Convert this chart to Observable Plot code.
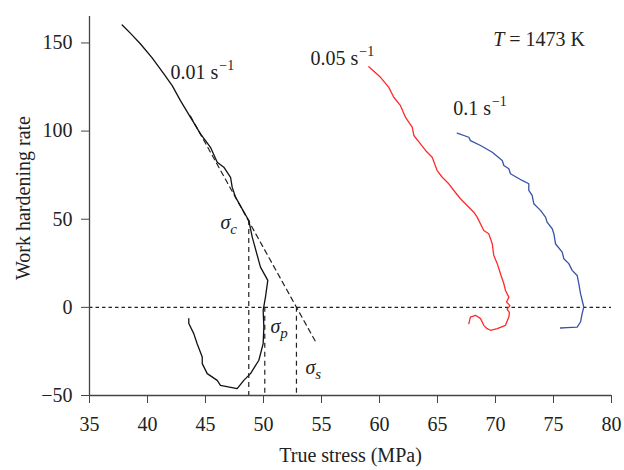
<!DOCTYPE html>
<html>
<head>
<meta charset="utf-8">
<script src="https://cdn.jsdelivr.net/npm/d3@7"></script>
<script src="https://cdn.jsdelivr.net/npm/@observablehq/plot@0.6"></script>
<style>
  html, body { margin: 0; padding: 0; background: #fff; }
  #chart { width: 624px; height: 470px; }
</style>
</head>
<body>
<div id="chart"></div>
<script>
// ---- data ----
const xTicks = [35, 40, 45, 50, 55, 60, 65, 70, 75, 80];
const yTicks = [-50, 0, 50, 100, 150];

// 0.01 s^-1 (black)
const blackX = [37.82, 38.6, 39.40, 40.4, 41.41, 42.13, 42.84, 43.71, 44.57, 45.43, 46.01, 46.58, 47.16, 47.30, 47.59, 48.16, 48.73, 49.03, 49.74, 50.37, 50.17, 49.97, 50.03, 49.97, 49.60, 48.88, 48.30, 47.73, 46.29, 46.01, 45.15, 44.72, 44.72, 44.28, 43.99, 43.56, 43.56];
const blackY = [160.2, 155.0, 149.4, 141.5, 132.4, 125.8, 117.3, 107.8, 98.4, 90.8, 82.3, 79.5, 73.8, 68.2, 62.5, 55.9, 49.3, 39.8, 22.8, 15.3, 5.8, -1.7, -11.2, -20.6, -30.0, -37.6, -41.4, -46.1, -44.2, -41.4, -37.6, -31.9, -28.2, -20.6, -14.9, -9.2, -6.4];

// 0.05 s^-1 (red)
const redX = [59.08, 60.09, 60.80, 61.23, 61.81, 62.24, 62.82, 62.96, 63.53, 63.97, 64.54, 64.97, 65.41, 65.97, 66.41, 66.98, 68.13, 68.42, 68.99, 69.42, 69.72, 69.85, 70.15, 70.43, 70.72, 70.86, 71.15, 70.95, 71.25, 71.00, 71.20, 71.15, 70.86, 70.15, 69.57, 69.28, 68.99, 68.71, 68.28, 67.84, 67.70];
const redY = [136.5, 130.5, 124.8, 119.2, 114.4, 107.8, 102.2, 97.5, 92.7, 89.0, 85.2, 77.6, 73.8, 70.1, 66.3, 61.6, 54.0, 51.2, 43.6, 41.8, 36.1, 29.5, 24.8, 19.1, 13.4, 9.6, 5.8, 3.0, 1.0, -1.0, -3.0, -5.5, -10.2, -12.1, -13.0, -12.1, -10.2, -6.4, -4.5, -5.5, -9.2];

// 0.1 s^-1 (blue)
const blueX = [66.70, 67.70, 67.84, 68.71, 69.72, 70.58, 70.72, 71.15, 71.29, 72.30, 72.87, 72.87, 73.16, 73.30, 73.88, 74.31, 74.45, 74.89, 75.03, 75.17, 75.75, 75.89, 76.32, 76.61, 77.04, 77.18, 77.33, 77.61, 77.47, 77.33, 77.04, 76.18, 75.60];
const blueY = [98.8, 96.5, 94.6, 91.8, 88.0, 83.3, 80.5, 78.6, 75.8, 72.0, 70.1, 66.3, 63.5, 58.8, 55.0, 51.2, 48.3, 44.6, 41.8, 36.1, 31.3, 27.6, 24.8, 21.0, 18.1, 13.4, 7.8, 0.2, -3.6, -8.3, -11.2, -11.5, -11.7];

// tangent line and critical stresses
const tangentX = [43.7, 54.45];
const tangentY = [108.5, -19.0];
const sigmaX = [48.73, 50.11, 52.84];
const sigmaTop = [49.3, 0, 0];

// annotations
const annoText = ["0.01 s^\u22121", "0.05 s^\u22121", "0.1 s^\u22121", "T = 1473 K", "\u03c3_c", "\u03c3_p", "\u03c3_s"];
const annoX = [41.98, 54.05, 66.35, 69.8, 46.29, 50.6, 53.62];
const annoY = [133.1, 141.0, 112.7, 151.8, 48.2, -10.8, -34.0];

const xLabel = "True stress (MPa)";
const yLabel = "Work hardening rate";

// ---- build ----
const toPts = (xs, ys) => xs.map((x, i) => ({x, y: ys[i]}));
const series = [
  {pts: toPts(blackX, blackY), color: "#111111"},
  {pts: toPts(redX, redY), color: "#ff2a2a"},
  {pts: toPts(blueX, blueY), color: "#3553a8"}
];
const anno = annoText.map((t, i) => ({t, x: annoX[i], y: annoY[i]}));
const sigmaLines = sigmaX.map((x, i) => ({x, y1: sigmaTop[i], y2: -50}));

const plot = Plot.plot({
  width: 624,
  height: 470,
  marginLeft: 89,
  marginRight: 13,
  marginTop: 16,
  marginBottom: 75,
  style: {fontFamily: "'Liberation Serif', 'DejaVu Serif', serif", fontSize: "20px", color: "#222", background: "#fff"},
  x: {domain: [35, 80]},
  y: {domain: [-50, 165]},
  marks: [
    Plot.ruleY([0], {stroke: "#222", strokeWidth: 1.2, strokeDasharray: "3.5,3"}),
    Plot.ruleX(sigmaLines, {x: "x", y1: "y1", y2: "y2", stroke: "#222", strokeWidth: 1.2, strokeDasharray: "5,4"}),
    Plot.line(toPts(tangentX, tangentY), {x: "x", y: "y", stroke: "#222", strokeWidth: 1.2, strokeDasharray: "5,4"}),
    ...series.map(s => Plot.line(s.pts, {x: "x", y: "y", stroke: s.color, strokeWidth: 1.3, curve: "linear"})),
    Plot.ruleX([35], {stroke: "#444", strokeWidth: 1.3}),
    Plot.ruleY([-50], {stroke: "#444", strokeWidth: 1.3}),
    Plot.axisX({ticks: xTicks, tickSize: 8, tickPadding: 13, fontSize: 20, label: null, stroke: "#444"}),
    Plot.axisY({ticks: yTicks, tickSize: 8, tickPadding: 9, fontSize: 20, label: null, stroke: "#444"}),
    Plot.text([xLabel], {frameAnchor: "bottom", dy: 60, text: d => d, fontSize: 20, textAnchor: "middle", lineAnchor: "middle"}),
    Plot.text([yLabel], {frameAnchor: "left", dx: -66, dy: -8, rotate: -90, text: d => d, fontSize: 20, textAnchor: "middle", lineAnchor: "middle"}),
    Plot.text(anno, {x: "x", y: "y", text: "t", textAnchor: "start", lineAnchor: "middle", fontSize: 20})
  ]
});

// rich text: superscripts, subscripts, italics
d3.select(plot).selectAll("text").each(function () {
  const el = d3.select(this);
  const s = this.textContent;
  if (s.includes("^")) {
    const [base, sup] = s.split("^");
    el.text(null);
    el.append("tspan").text(base);
    el.append("tspan").attr("font-size", 14).attr("dy", -9).attr("dx", 1).text(sup);
  } else if (s.includes("_")) {
    const [base, sub] = s.split("_");
    el.text(null);
    el.append("tspan").attr("font-style", "italic").text(base);
    el.append("tspan").attr("font-style", "italic").attr("font-size", 15).attr("dy", 5).text(sub);
  } else if (s.startsWith("T =")) {
    el.text(null);
    el.append("tspan").attr("font-style", "italic").text("T");
    el.append("tspan").text(s.slice(1));
  }
});

document.getElementById("chart").appendChild(plot);
</script>
</body>
</html>
